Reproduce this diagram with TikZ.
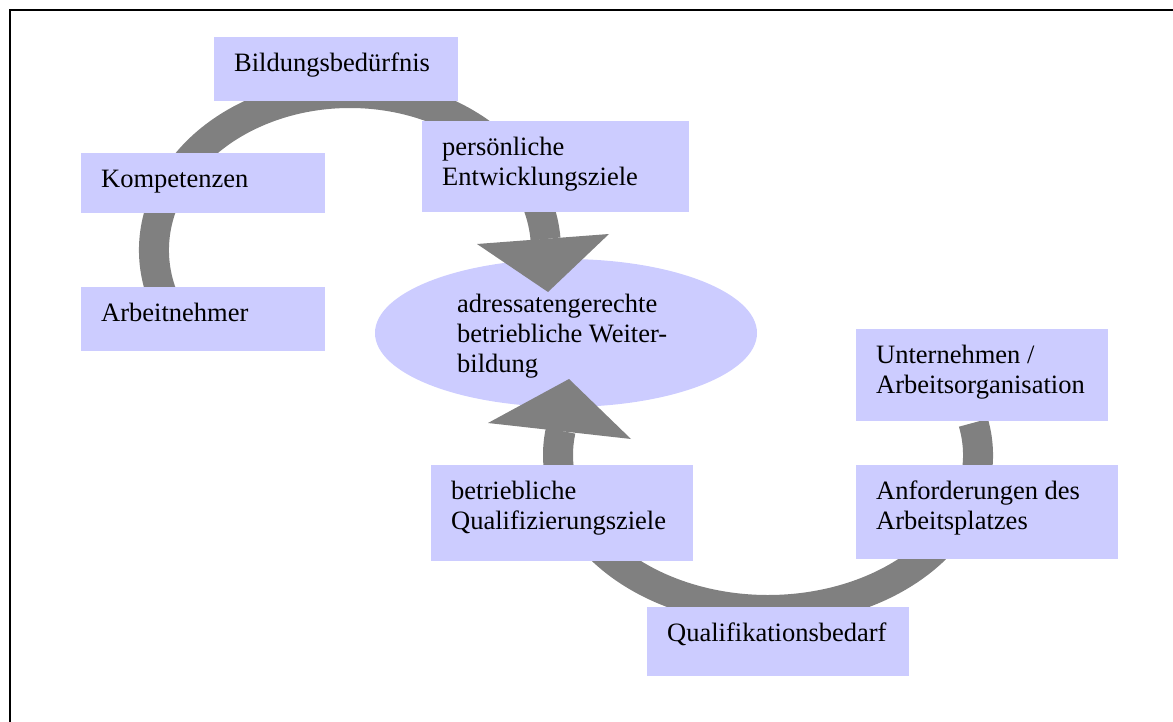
\documentclass[tikz,border=0pt]{standalone}
\usepackage{fontspec}
\setmainfont{Liberation Serif}
\usetikzlibrary{shapes.geometric}
\definecolor{boxblue}{HTML}{CCCCFF}
\definecolor{ringgray}{HTML}{808080}
\tikzset{
  box/.style={fill=boxblue, draw=none, inner sep=0pt, anchor=north west},
  lbl/.style={anchor=north west, inner sep=0pt, align=left, font=\fontsize{26.5}{30}\selectfont},
  ring/.style={draw=ringgray, line width=30pt, line cap=butt},
  head/.style={fill=ringgray, draw=none}
}
\begin{document}
\begin{tikzpicture}[x=1pt,y=-1pt]
\useasboundingbox (0,0) rectangle (1173,722);
% frame
\draw[line width=2pt] (10,730) -- (10,10) -- (1180,10);
% central ellipse
\node[ellipse, fill=boxblue, inner sep=0pt, minimum width=382pt, minimum height=148pt] (weiter) at (566,333) {};
\node[lbl] (weiterT) at (457,291) {\strut adressatengerechte\\betriebliche Weiter-\\bildung};
% upper ring
\draw[ring] (350,250) ++(-205:196 and 157) arc[start angle=-205, end angle=-4, x radius=196, y radius=157];
\coordinate (h1a) at (477,244);
\coordinate (h1b) at (609,234);
\coordinate (h1t) at (548,292);
\fill[head] (h1a) -- (h1b) -- (h1t) -- cycle;
% lower ring
\draw[ring] (768,455) ++(-12:210 and 155) arc[start angle=-12, end angle=189, x radius=210, y radius=155];
\coordinate (h2a) at (488,423);
\coordinate (h2b) at (631,439);
\coordinate (h2t) at (569,379);
\fill[head] (h2a) -- (h2b) -- (h2t) -- cycle;
% boxes
\node[box, minimum width=244pt, minimum height=64pt] (bild) at (214,37) {};
\node[lbl] (bildT) at ([shift={(20,13)}]bild.north west) {\strut Bildungsbedürfnis};
\node[box, minimum width=244pt, minimum height=60pt] (komp) at (81,153) {};
\node[lbl] (kompT) at ([shift={(20,13)}]komp.north west) {\strut Kompetenzen};
\node[box, minimum width=244pt, minimum height=64pt] (arbn) at (81,287) {};
\node[lbl] (arbnT) at ([shift={(20,13)}]arbn.north west) {\strut Arbeitnehmer};
\node[box, minimum width=267pt, minimum height=91pt] (pers) at (422,121) {};
\node[lbl] (persT) at ([shift={(20,13)}]pers.north west) {\strut persönliche\\Entwicklungsziele};
\node[box, minimum width=252pt, minimum height=92pt] (unt) at (856,329) {};
\node[lbl] (untT) at ([shift={(20,13)}]unt.north west) {\strut Unternehmen /\\Arbeitsorganisation};
\node[box, minimum width=262pt, minimum height=94pt] (anf) at (856,465) {};
\node[lbl] (anfT) at ([shift={(20,13)}]anf.north west) {\strut Anforderungen des\\Arbeitsplatzes};
\node[box, minimum width=262pt, minimum height=96pt] (qziel) at (431,465) {};
\node[lbl] (qzielT) at ([shift={(20,13)}]qziel.north west) {\strut betriebliche\\Qualifizierungsziele};
\node[box, minimum width=262pt, minimum height=69pt] (qbed) at (647,607) {};
\node[lbl] (qbedT) at ([shift={(20,13)}]qbed.north west) {\strut Qualifikationsbedarf};
\end{tikzpicture}
\end{document}
